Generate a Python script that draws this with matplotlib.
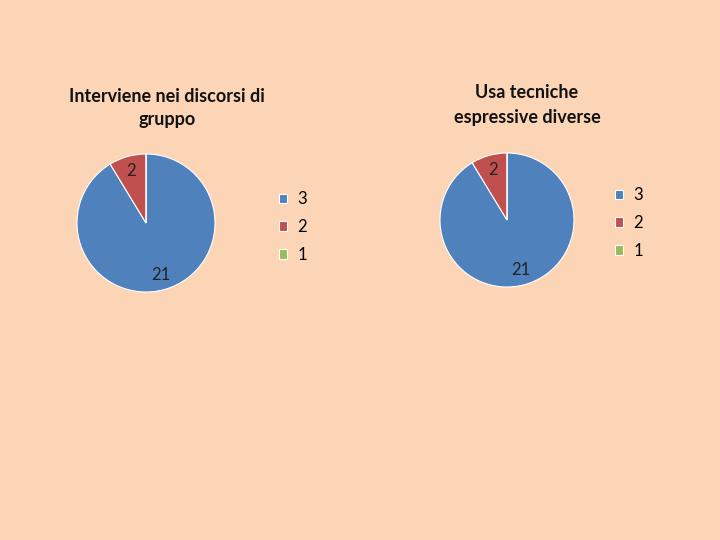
import matplotlib
matplotlib.use('Agg')
import matplotlib.pyplot as plt

categories = ['3', '2', '1']
left_values = [21, 2, 0]
right_values = [21, 2, 0]
left_title = 'Interviene nei discorsi di\ngruppo'
right_title = 'Usa tecniche\nespressive diverse'
colors = ['#4F81BD', '#C0504D', '#9BBB59']
bg = '#FBD5B5'

plt.rcParams['font.family'] = ['Lato', 'DejaVu Sans']

fig = plt.figure(figsize=(7.2, 5.4), dpi=100, facecolor=bg)

def fmt(values):
    total = sum(values)
    def f(pct):
        v = int(round(pct * total / 100.0))
        return str(v) if v > 0 else ''
    return f

def draw(rect, values, title, tx, ty, ls, lx, ly):
    ax = fig.add_axes(rect)
    ax.set_facecolor(bg)
    wedges, texts, autos = ax.pie(values, colors=colors, startangle=90, counterclock=False,
                                  autopct=fmt(values), pctdistance=0.78,
                                  wedgeprops=dict(edgecolor='white', linewidth=0.8),
                                  textprops=dict(fontsize=12, color='#222222'))
    ax.set_xlim(-1, 1)
    ax.set_ylim(-1, 1)
    ax.set_aspect('auto')
    ax.axis('off')
    fig.text(tx, ty, title, ha='center', va='center', fontsize=13, fontweight='bold',
             color='#111111', linespacing=ls)
    ax.legend(wedges, categories, loc='center left', bbox_to_anchor=(lx, ly),
              bbox_transform=fig.transFigure, frameon=False, fontsize=12,
              handlelength=0.5, handleheight=0.5, handletextpad=0.6,
              labelspacing=0.7, borderpad=0, borderaxespad=0)

draw([77 / 720, 248 / 540, 138 / 720, 138 / 540], left_values, left_title,
     167 / 720, 1 - 108 / 540, 1.4, 279 / 720, 1 - 227 / 540)
draw([440 / 720, 253 / 540, 134 / 720, 134 / 540], right_values, right_title,
     527 / 720, 1 - 105 / 540, 1.5, 615 / 720, 1 - 223 / 540)

fig.savefig('out.png', dpi=100, facecolor=bg)
